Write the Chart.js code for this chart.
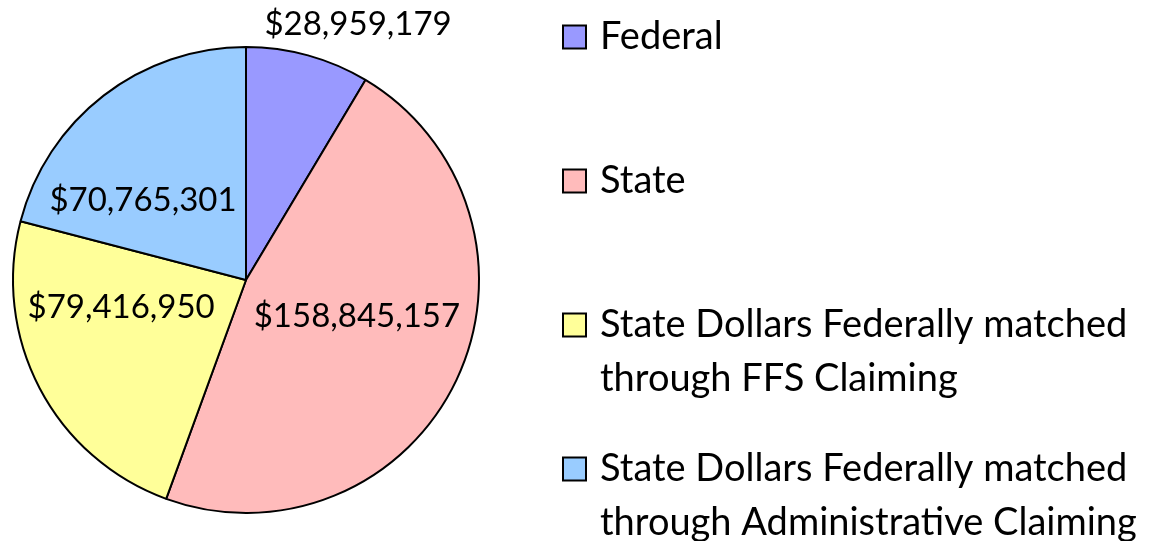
<!DOCTYPE html>
<html>
<head>
<meta charset="utf-8">
<script src="https://cdn.jsdelivr.net/npm/chart.js@4"></script>
<style>
  html, body { margin: 0; padding: 0; background: #fff; }
  #wrap { width: 1173px; height: 541px; position: relative; }
</style>
</head>
<body>
<div id="wrap"><canvas id="pie"></canvas></div>
<script>
const categories = [
  'Federal',
  'State',
  'State Dollars Federally matched through FFS Claiming',
  'State Dollars Federally matched through Administrative Claiming'
];
const amounts = [28959179, 158845157, 79416950, 70765301];
const sliceColors = ['#9999FF', '#FFBBBB', '#FFFF99', '#99CCFF'];

// label placement relative to pie centre, in units of the radius
const labelOffsets = [[0.481, -1.099], [0.476, 0.155], [-0.536, 0.116], [-0.442, -0.343]];

const fmt = v => '$' + v.toLocaleString('en-US');

const valueLabels = {
  id: 'valueLabels',
  afterDatasetsDraw(chart) {
    const ctx = chart.ctx;
    const arcs = chart.getDatasetMeta(0).data;
    ctx.save();
    ctx.font = '33px Lato';
    ctx.fillStyle = '#000';
    ctx.textAlign = 'center';
    ctx.textBaseline = 'middle';
    arcs.forEach((arc, i) => {
      const r = arc.outerRadius;
      const [fx, fy] = labelOffsets[i];
      ctx.fillText(fmt(amounts[i]), arc.x + fx * r, arc.y + fy * r);
    });
    ctx.restore();
  }
};

const sideLegend = {
  id: 'sideLegend',
  afterDraw(chart) {
    const ctx = chart.ctx;
    const boxX = 563, box = 23, textX = 600, maxW = 560;
    const firstY = 37, itemGap = 144, lineGap = 54;
    ctx.save();
    ctx.font = '38px Lato';
    ctx.textBaseline = 'middle';
    categories.forEach((name, i) => {
      // wrap the label
      const words = name.split(' ');
      const lines = [];
      let cur = '';
      words.forEach(w => {
        const t = cur ? cur + ' ' + w : w;
        if (ctx.measureText(t).width > maxW && cur) { lines.push(cur); cur = w; }
        else cur = t;
      });
      lines.push(cur);
      const y = firstY + i * itemGap;
      ctx.fillStyle = sliceColors[i];
      ctx.fillRect(boxX, y - box / 2, box, box);
      ctx.strokeStyle = '#000';
      ctx.lineWidth = 2;
      ctx.strokeRect(boxX, y - box / 2, box, box);
      ctx.fillStyle = '#000';
      lines.forEach((ln, j) => ctx.fillText(ln, textX, y + j * lineGap));
    });
    ctx.restore();
  }
};

new Chart(document.getElementById('pie'), {
  type: 'pie',
  data: {
    labels: categories,
    datasets: [{
      data: amounts,
      backgroundColor: sliceColors,
      borderColor: '#000',
      borderWidth: 2
    }]
  },
  options: {
    responsive: true,
    maintainAspectRatio: false,
    animation: false,
    layout: { padding: { left: 12, top: 46, right: 693, bottom: 27 } },
    plugins: {
      legend: { display: false },
      tooltip: { enabled: false }
    }
  },
  plugins: [valueLabels, sideLegend]
});
</script>
</body>
</html>
